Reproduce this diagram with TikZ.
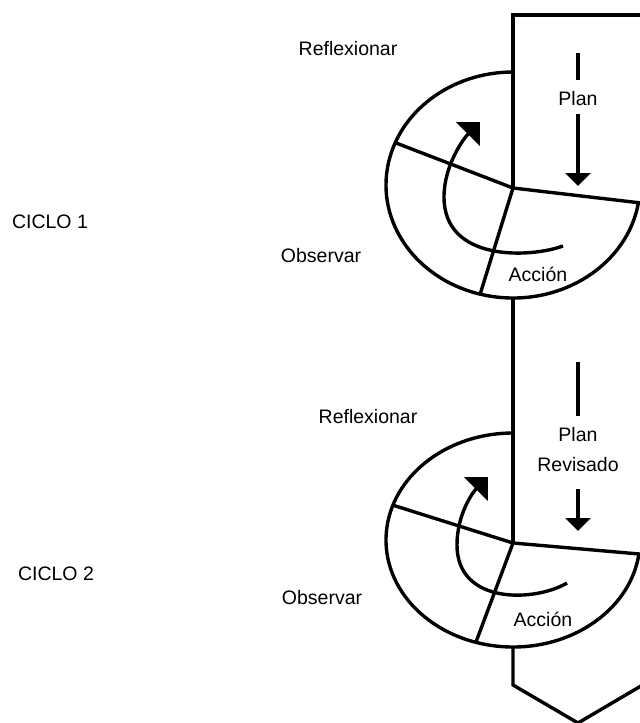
\documentclass[tikz,border=0pt]{standalone}
\usepackage{fontspec}
\setmainfont{Liberation Sans}
\usetikzlibrary{arrows.meta,calc}

\begin{document}
\begin{tikzpicture}[x=0.5pt, y=-0.5pt, line width=1.7pt,
                    every node/.style={font=\fontsize{9.75}{15}\selectfont},
                    giro/.style={-{Triangle[length=8.5pt, width=16.5pt]}},
                    baja/.style={-{Triangle[length=6.5pt, width=12.5pt]}}]
        \useasboundingbox (0,0) rectangle (640,723);
        \clip (0,0) rectangle (640,723);

        % ciclo 1
        \coordinate (T0) at (660,15);
        \coordinate (T1) at (513,15);
        \coordinate (C1) at (513,188);
        \coordinate (E1) at (513,185);
        \coordinate (R1) at ($(E1)+(9:127 and 113)$);
        \coordinate (L1) at ($(E1)+(202:127 and 113)$);
        \coordinate (D1) at ($(E1)+(105:127 and 113)$);
        \coordinate (B1) at ($(E1)+(90:127 and 113)$);

        \draw (T0) -- (T1) -- (C1);
        \draw (C1) -- (R1) arc[start angle=9, end angle=270, x radius=127, y radius=113];
        \draw (C1) -- (L1);
        \draw (C1) -- (D1);

        \coordinate (G1a) at (563,246);
        \coordinate (G1b) at (444,197);
        \coordinate (G1c) at (480,122);
        \draw[giro] (G1a) .. controls (530,258) and (444,262) .. (G1b)
                          .. controls (444,165) and (464,138) .. (G1c);

        \node[inner ysep=3pt] (P1) at (578,99) {Plan};
        \coordinate (P1a) at (578,53);
        \coordinate (P1b) at (578,186);
        \draw[shorten >=2pt] (P1a) -- (P1);
        \draw[baja] (P1) -- (P1b);

        \node (F1) at (348,49)  {Reflexionar};
        \node (O1) at (321,256) {Observar};
        \node (A1) at (538,274) {Acción};
        \node (N1) at (50,222)  {CICLO 1};

        % ciclo 2
        \coordinate (C2) at (513,543);
        \coordinate (E2) at (513,540);
        \coordinate (R2) at ($(E2)+(7.5:127 and 107)$);
        \coordinate (L2) at ($(E2)+(199:127 and 107)$);
        \coordinate (D2) at ($(E2)+(107:127 and 107)$);
        \coordinate (B2) at ($(E2)+(90:127 and 107)$);

        \draw (B1) -- (C2);
        \draw (C2) -- (R2) arc[start angle=7.5, end angle=270, x radius=127, y radius=107];
        \draw (C2) -- (L2);
        \draw (C2) -- (D2);

        \coordinate (G2a) at (567,583);
        \coordinate (G2b) at (457,545);
        \coordinate (G2c) at (488,477);
        \draw[giro] (G2a) .. controls (535,602) and (457,605) .. (G2b)
                          .. controls (457,515) and (472,493) .. (G2c);

        \node[align=center, inner ysep=5pt] (P2) at (578,449.5) {Plan\\Revisado};
        \coordinate (P2a) at (578,362);
        \coordinate (P2b) at (578,531);
        \draw (P2a) -- (P2);
        \draw[baja, shorten <=3pt] (P2) -- (P2b);

        \node (F2) at (368,417) {Reflexionar};
        \node (O2) at (322,598) {Observar};
        \node (A2) at (543,619) {Acción};
        \node (N2) at (56,574)  {CICLO 2};

        % punta
        \coordinate (V1) at (513,685);
        \coordinate (V2) at (578,723);
        \coordinate (V3) at (646,683);
        \draw (B2) -- (V1) -- (V2) -- (V3);
\end{tikzpicture}
\end{document}
